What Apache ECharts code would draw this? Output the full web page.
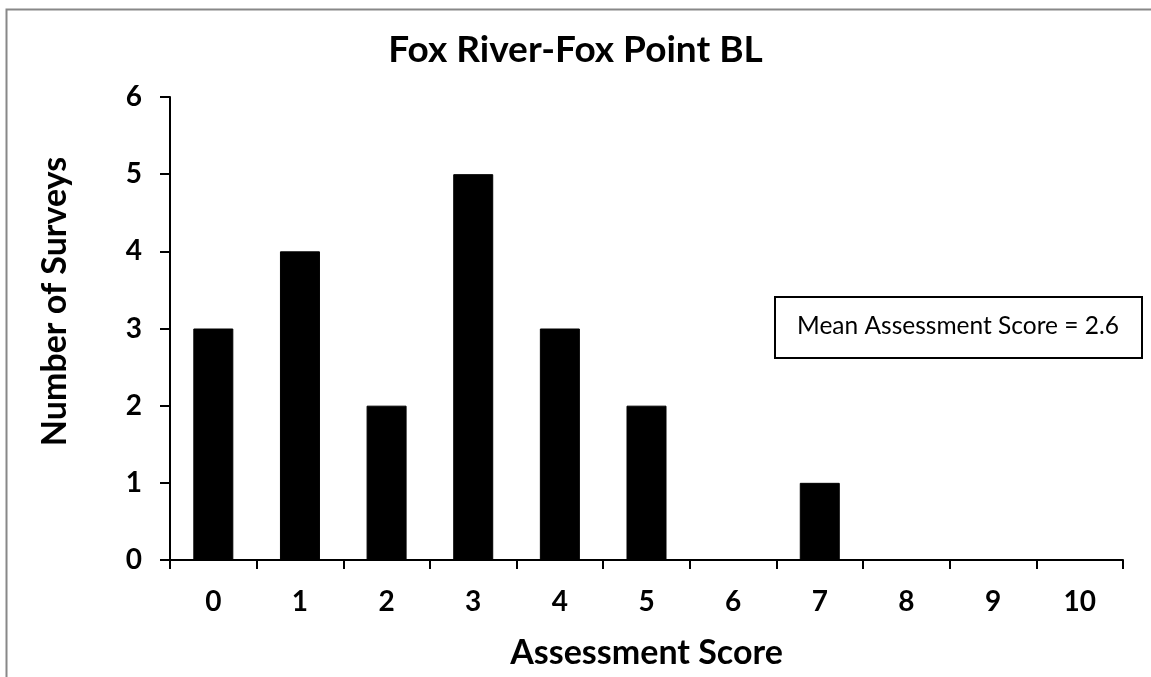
<!DOCTYPE html>
<html>
<head>
<meta charset="utf-8">
<title>Fox River-Fox Point BL</title>
<script src="https://cdn.jsdelivr.net/npm/echarts@6/dist/echarts.min.js"></script>
<style>
  html, body { margin: 0; padding: 0; background: #fff; }
  #chart { width: 1151px; height: 677px; }
</style>
</head>
<body>
<div id="chart"></div>
<script>
// assessment scores on x axis
var scores = ['0', '1', '2', '3', '4', '5', '6', '7', '8', '9', '10']
// number of surveys per score
var surveys = [3, 4, 2, 5, 3, 2, 0, 1, 0, 0, 0]
var meanText = 'Mean Assessment Score = 2.6'

var font = 'Lato, "Open Sans", sans-serif'

var chart = echarts.init(document.getElementById('chart'))
chart.setOption({
  animation: false,
  backgroundColor: '#fff',
  title: {
    text: 'Fox River-Fox Point BL',
    left: 'center',
    top: 27,
    textStyle: {
      fontFamily: font,
      fontWeight: 'bold',
      fontSize: 37,
      color: '#000'
    }
  },
  grid: {
    left: 170,
    right: 28,
    top: 97,
    bottom: 117
  },
  xAxis: {
    type: 'category',
    data: scores,
    boundaryGap: true,
    name: 'Assessment Score',
    nameLocation: 'middle',
    nameGap: 76,
    nameTextStyle: {
      fontFamily: font,
      fontWeight: 'bold',
      fontSize: 34,
      color: '#000'
    },
    axisLine: { lineStyle: { color: '#000', width: 2 } },
    axisTick: { show: true, alignWithLabel: false, length: 9, lineStyle: { color: '#000', width: 2 } },
    axisLabel: {
      margin: 28,
      fontFamily: font,
      fontWeight: 'bold',
      fontSize: 28,
      color: '#000'
    },
    splitLine: { show: false }
  },
  yAxis: {
    type: 'value',
    min: 0,
    max: 6,
    interval: 1,
    name: 'Number of Surveys',
    nameLocation: 'middle',
    nameRotate: 90,
    nameGap: 98,
    nameTextStyle: {
      fontFamily: font,
      fontWeight: 'bold',
      fontSize: 34,
      color: '#000',
      padding: [0, 0, 0, 54]
    },
    axisLine: { show: true, lineStyle: { color: '#000', width: 2 } },
    axisTick: { show: true, length: 10, lineStyle: { color: '#000', width: 2 } },
    axisLabel: {
      margin: 28,
      fontFamily: font,
      fontWeight: 'bold',
      fontSize: 28,
      color: '#000'
    },
    splitLine: { show: false }
  },
  series: [{
    name: 'Number of Surveys',
    type: 'bar',
    data: surveys,
    barWidth: 40,
    itemStyle: {
      color: '#000',
      borderColor: '#000',
      borderWidth: 1
    }
  }],
  graphic: [
    {
      type: 'rect',
      left: 4,
      top: 7,
      silent: true,
      shape: { width: 1200, height: 720 },
      style: { fill: 'none', stroke: '#888', lineWidth: 2 }
    },
    {
      type: 'group',
      left: 774,
      top: 296,
      children: [
        {
          type: 'rect',
          shape: { x: 0, y: 0, width: 367, height: 61 },
          style: { fill: '#fff', stroke: '#000', lineWidth: 2 }
        },
        {
          type: 'text',
          x: 183,
          y: 29,
          style: {
            text: meanText,
            fontFamily: font,
            fontSize: 24.5,
            fill: '#000',
            align: 'center',
            verticalAlign: 'middle'
          }
        }
      ]
    }
  ]
})
</script>
</body>
</html>
